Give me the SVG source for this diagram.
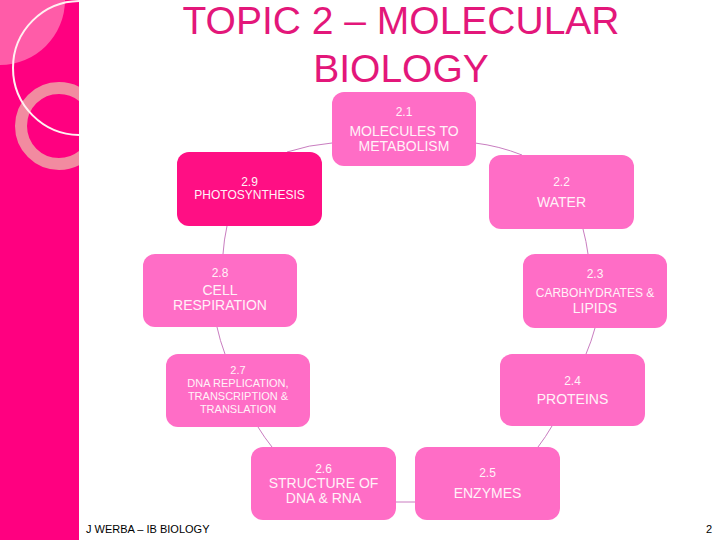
<svg xmlns="http://www.w3.org/2000/svg" width="720" height="540" viewBox="0 0 720 540">
<defs>
<clipPath id="barClip"><rect x="0" y="0" width="79" height="540"/></clipPath>
<style>
.node{fill:#FF6DC6;}
.node.dark{fill:#FF0F84;}
.t{font-family:"Liberation Sans",Arial,sans-serif;fill:#FFF2F8;text-anchor:middle;}
.n{font-size:12px;}
.m{font-size:14px;}
.s{font-size:12px;}
.xs{font-size:11px;}
.conn path{fill:none;stroke:#C97DC0;stroke-width:1;}
.title{font-family:"Liberation Sans",Arial,sans-serif;font-size:39px;fill:#E3177A;text-anchor:middle;}
.foot{font-family:"Liberation Sans",Arial,sans-serif;font-size:11px;fill:#000;}
</style>
</defs>
<rect width="720" height="540" fill="#FFFFFF"/>
<g id="sidebar" clip-path="url(#barClip)">
<rect x="0" y="0" width="79" height="540" fill="#FF0080"/>
<path d="M0,0 H65 A65,65 0 0 1 0,65 Z" fill="#FF5CA8"/>
<circle cx="59" cy="126" r="38" fill="none" stroke="#F28BA0" stroke-width="12"/>
<circle cx="80" cy="68" r="67" fill="none" stroke="#FFF2F2" stroke-width="2"/>
</g>
<g id="title">
<text class="title" x="401" y="34">TOPIC 2 – MOLECULAR</text>
<text class="title" x="401" y="82">BIOLOGY</text>
</g>
<g id="connectors" class="conn">
<path d="M475,143 A190,190 0 0 1 522,155"/>
<path d="M583,229 A190,190 0 0 1 588,254"/>
<path d="M595,328 A190,190 0 0 1 586,354"/>
<path d="M552,426 A190,190 0 0 1 538,447"/>
<path d="M415,502 L396,502"/>
<path d="M272,447 A190,190 0 0 1 258,427"/>
<path d="M225,354 A190,190 0 0 1 217,327"/>
<path d="M223,254 A190,190 0 0 1 227,226"/>
<path d="M287,152 A190,190 0 0 1 332,143"/>
</g>
<g id="node-2-1">
<rect class="node" x="332" y="92" width="144" height="74" rx="12"/>
<text class="t n" x="404" y="116">2.1</text>
<text class="t m" x="404" y="136">MOLECULES TO</text>
<text class="t m" x="404" y="151">METABOLISM</text>
</g>
<g id="node-2-2">
<rect class="node" x="489" y="155" width="145" height="74" rx="12"/>
<text class="t n" x="561.5" y="186">2.2</text>
<text class="t m" x="561.5" y="207">WATER</text>
</g>
<g id="node-2-3">
<rect class="node" x="523" y="254" width="144" height="74" rx="12"/>
<text class="t n" x="595" y="278">2.3</text>
<text class="t s" x="595" y="297">CARBOHYDRATES &amp;</text>
<text class="t m" x="595" y="313">LIPIDS</text>
</g>
<g id="node-2-4">
<rect class="node" x="500" y="354" width="145" height="72" rx="12"/>
<text class="t n" x="572.5" y="385">2.4</text>
<text class="t m" x="572.5" y="404">PROTEINS</text>
</g>
<g id="node-2-5">
<rect class="node" x="415" y="447" width="145" height="73" rx="12"/>
<text class="t n" x="487.5" y="477">2.5</text>
<text class="t m" x="487.5" y="498">ENZYMES</text>
</g>
<g id="node-2-6">
<rect class="node" x="251" y="447" width="145" height="73" rx="12"/>
<text class="t n" x="323.5" y="473">2.6</text>
<text class="t m" x="323.5" y="488">STRUCTURE OF</text>
<text class="t m" x="323.5" y="503">DNA &amp; RNA</text>
</g>
<g id="node-2-7">
<rect class="node" x="166" y="354" width="144" height="73" rx="12"/>
<text class="t xs" x="238" y="374">2.7</text>
<text class="t xs" x="238" y="387">DNA REPLICATION,</text>
<text class="t xs" x="238" y="400">TRANSCRIPTION &amp;</text>
<text class="t xs" x="238" y="413">TRANSLATION</text>
</g>
<g id="node-2-8">
<rect class="node" x="143" y="254" width="154" height="73" rx="12"/>
<text class="t n" x="220" y="277">2.8</text>
<text class="t m" x="220" y="295">CELL</text>
<text class="t m" x="220" y="310">RESPIRATION</text>
</g>
<g id="node-2-9">
<rect class="node dark" x="177" y="152" width="145" height="74" rx="12"/>
<text class="t n" x="249.5" y="186">2.9</text>
<text class="t s" x="249.5" y="199">PHOTOSYNTHESIS</text>
</g>
<g id="footer">
<text class="foot" x="86" y="533">J WERBA – IB BIOLOGY</text>
<text class="foot" x="712" y="533" text-anchor="end">2</text>
</g>
</svg>
